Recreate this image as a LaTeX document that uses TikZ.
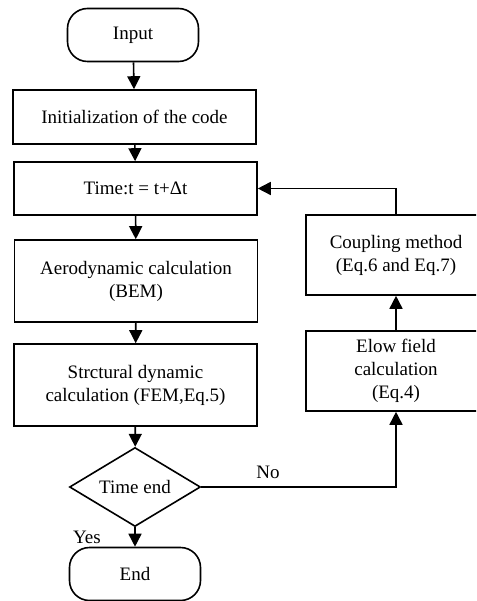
\documentclass[tikz,border=0pt]{standalone}
\usepackage{fontspec}
\setmainfont{Liberation Serif}
\usetikzlibrary{shapes.geometric}
\usetikzlibrary{arrows.meta}

\begin{document}
\begin{tikzpicture}[x=1pt, y=-1pt, line width=1.6pt,
		font=\fontsize{19}{23}\selectfont,
		terminal/.style={rectangle, draw, rounded corners=20pt, inner sep=0pt, minimum width=131pt, minimum height=53pt},
		process/.style={rectangle, draw, align=center, inner sep=0pt, minimum width=243pt},
		sideprocess/.style={rectangle, draw, align=center, inner sep=0pt, minimum width=180pt, minimum height=80pt},
		decision/.style={diamond, draw, inner sep=0pt, aspect=1.66, minimum width=131pt, minimum height=79pt},
		flow/.style={-{Triangle[length=13pt, width=13pt]}}]
	\clip (0,0) rectangle (476,601);
	
	\node[terminal] at (133,35) (input) {Input};
	\node[process, minimum height=54pt] at (134.5,117) (init) {Initialization of the code};
	\node[process, minimum height=53pt] at (135.5,188.5) (time) {Time:t = t+Δt};
	\node[process, minimum height=82pt] at (136,281) (aero) {Aerodynamic calculation\\(BEM)};
	\node[process, minimum height=82pt] at (135.5,385) (struct) {Strctural dynamic\\calculation (FEM,Eq.5)};
	\node[decision] at (135,487) (time_end) {Time end};
	\node[terminal] at (135,574) (end) {End};
	
	\node[sideprocess] at (396,255) (coupling) {Coupling method\\(Eq.6 and Eq.7)};
	\node[sideprocess] at (396,371) (flow_field) {Elow field\\calculation\\(Eq.4)};
	
	\node at (268,472) (no) {No};
	\node at (87,537) (yes) {Yes};
	
	\draw (input) edge [flow] (init);
	\draw (init) edge [flow] (time);
	\draw (time) edge [flow] (aero);
	\draw (aero) edge [flow] (struct);
	\draw (struct) edge [flow] (time_end);
	\draw (time_end) edge [flow] (end);
	
	\draw[flow] (time_end.east) -| (flow_field.south);
	\draw (flow_field) edge [flow] (coupling);
	\draw[flow] (coupling.north) |- (time.east);
\end{tikzpicture}
\end{document}
